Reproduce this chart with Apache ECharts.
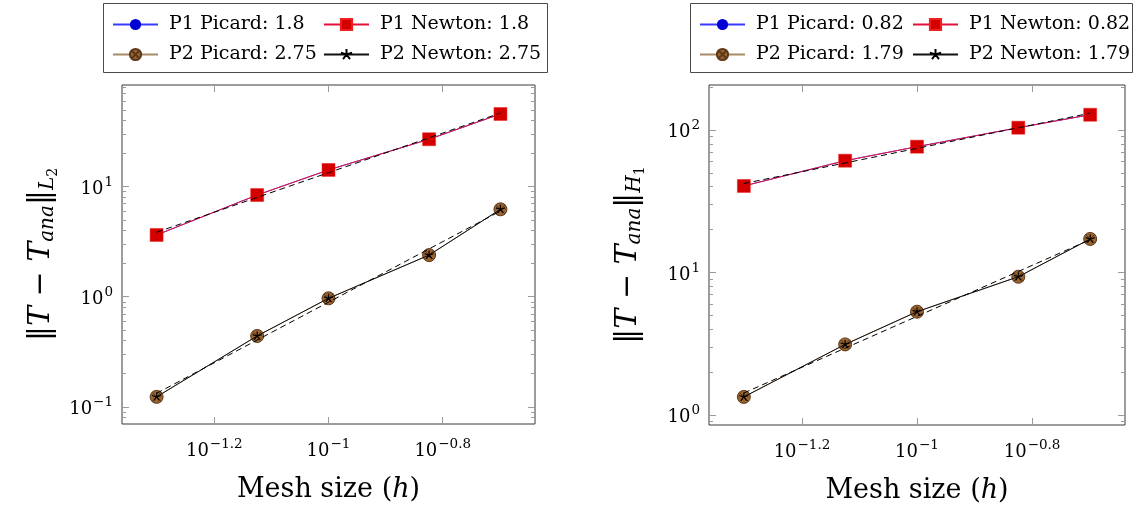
<!DOCTYPE html>
<html><head><meta charset="utf-8">
<script src="https://cdn.jsdelivr.net/npm/echarts@6/dist/echarts.min.js"></script>
<style>html,body{margin:0;padding:0;background:#fff}#c{width:1136px;height:512px}</style>
</head><body><div id="c"></div>
<script>
// ---------------- data ----------------
const meshSize = [0.05, 0.075, 0.1, 0.15, 0.2];

const l2P1Picard = [3.64, 8.4, 14.2, 27.0, 45.8];
const l2P1Newton = [3.64, 8.4, 14.2, 27.0, 45.8];
const l2P2Picard = [0.123, 0.44, 0.967, 2.39, 6.23];
const l2P2Newton = [0.123, 0.44, 0.967, 2.39, 6.23];

const h1P1Picard = [40.5, 60.9, 76.4, 103.8, 128];
const h1P1Newton = [40.5, 60.9, 76.4, 103.8, 128];
const h1P2Picard = [1.34, 3.13, 5.31, 9.34, 17.2];
const h1P2Newton = [1.34, 3.13, 5.31, 9.34, 17.2];

const l2Legend = ['P1 Picard: 1.8', 'P1 Newton: 1.8', 'P2 Picard: 2.75', 'P2 Newton: 2.75'];
const h1Legend = ['P1 Picard: 0.82', 'P1 Newton: 0.82', 'P2 Picard: 1.79', 'P2 Newton: 1.79'];

const xTickExponents = [-1.2, -1, -0.8];
const l2YTicks = [0.1, 1, 10];
const h1YTicks = [1, 10, 100];

const xRange = [0.04349, 0.2299];
const l2YRange = [0.0697, 84.0];
const h1YRange = [0.851, 207];

// ---------------- helpers ----------------
const FONT = 'DejaVu Serif';
const LOG = Math.log10;
const pairs = ys => meshSize.map((h, i) => [h, ys[i]]);
function fitLine(ys) { // least-squares fit in log-log space (as the reference's dashed lines)
  const lx = meshSize.map(LOG), ly = ys.map(LOG), n = lx.length;
  const mx = lx.reduce((a, b) => a + b) / n, my = ly.reduce((a, b) => a + b) / n;
  let sxy = 0, sxx = 0;
  for (let i = 0; i < n; i++) { sxy += (lx[i] - mx) * (ly[i] - my); sxx += (lx[i] - mx) ** 2; }
  const b = sxy / sxx, a = my - b * mx;
  return meshSize.map(h => [h, Math.pow(10, a + b * LOG(h))]);
}
function minorTicks(r) {
  const out = [];
  for (let e = -3; e <= 3; e++) for (let m = 2; m <= 9; m++) {
    const v = m * Math.pow(10, e);
    if (v > r[0] && v < r[1]) out.push(v);
  }
  return out;
}
const fmtExp = e => String(e).replace('-', '\u2212');
const powLabel = (v, digits) => {
  const e = Math.round(LOG(v) * digits) / digits;
  return '{b|10}{s|' + fmtExp(e) + '}';
};
const powRich = {
  b: { fontFamily: FONT, fontSize: 18, color: '#000', verticalAlign: 'bottom', padding: [5, 1, 0, 0] },
  s: { fontFamily: FONT, fontSize: 13.5, color: '#000', verticalAlign: 'top' }
};

const starPath = 'path://M0,0L0,-1M0,0L0.951,-0.309M0,0L0.588,0.809M0,0L-0.588,0.809M0,0L-0.951,-0.309M0,1L0,1';
const otimesPath = 'path://M-1,0A1,1,0,1,1,1,0A1,1,0,1,1,-1,0ZM-0.707,-0.707L0.707,0.707M-0.707,0.707L0.707,-0.707';

const TICK = '#9a9a9a';

function xAxes(gi) {
  const vals = xTickExponents.map(e => Math.pow(10, e));
  const base = {
    type: 'log', logBase: 10, gridIndex: gi, min: xRange[0], max: xRange[1],
    axisLine: { show: false }, splitLine: { show: false }, minorTick: { show: false }
  };
  return [
    Object.assign({}, base, {
      position: 'bottom',
      axisTick: { show: true, inside: true, length: 7, customValues: vals, lineStyle: { color: TICK, width: 1 } },
      axisLabel: { show: true, margin: 13, customValues: vals, formatter: v => powLabel(v, 10), rich: powRich },
      name: 'Mesh size ({i|h})', nameLocation: 'middle', nameGap: 52,
      nameTextStyle: { fontFamily: FONT, fontSize: 27, color: '#000',
        rich: { i: { fontFamily: FONT, fontSize: 27, fontStyle: 'italic', color: '#000' } } }
    }),
    Object.assign({}, base, {
      position: 'top',
      axisTick: { show: true, inside: true, length: 7, customValues: vals, lineStyle: { color: TICK, width: 1 } },
      axisLabel: { show: false }
    })
  ];
}

function yAxes(gi, range, major, sub) {
  const minor = minorTicks(range);
  const base = {
    type: 'log', logBase: 10, gridIndex: gi, min: range[0], max: range[1],
    axisLine: { show: false }, splitLine: { show: false }, minorTick: { show: false }
  };
  const nameRich = {
    n: { fontFamily: FONT, fontSize: 30, color: '#000' },
    i: { fontFamily: FONT, fontSize: 30, fontStyle: 'italic', color: '#000' },
    sub: { fontFamily: FONT, fontSize: 20, fontStyle: 'italic', color: '#000', verticalAlign: 'top', padding: [15, 0, 0, 0] },
    ss: { fontFamily: FONT, fontSize: 14, color: '#000', verticalAlign: 'top', padding: [23, 0, 0, 0] }
  };
  return [
    Object.assign({}, base, {
      position: 'left',
      axisTick: { show: true, inside: true, length: 7, customValues: major, lineStyle: { color: TICK, width: 1 } },
      axisLabel: { show: true, margin: 9, customValues: major, formatter: v => powLabel(v, 1), rich: powRich },
      name: '{n|\u2016}{i|T}{n| \u2212 }{i|T}{sub|ana}{n|\u2016}{sub|' + sub[0] + '}{ss|' + sub[1] + '}',
      nameLocation: 'middle', nameRotate: 90, nameGap: 62,
      nameTextStyle: { fontFamily: FONT, fontSize: 30, color: '#000', rich: nameRich }
    }),
    Object.assign({}, base, {
      position: 'left',
      axisTick: { show: true, inside: true, length: 4, customValues: minor, lineStyle: { color: TICK, width: 1 } },
      axisLabel: { show: false }
    }),
    Object.assign({}, base, {
      position: 'right',
      axisTick: { show: true, inside: true, length: 7, customValues: major, lineStyle: { color: TICK, width: 1 } },
      axisLabel: { show: false }
    }),
    Object.assign({}, base, {
      position: 'right',
      axisTick: { show: true, inside: true, length: 4, customValues: minor, lineStyle: { color: TICK, width: 1 } },
      axisLabel: { show: false }
    })
  ];
}

function seriesFor(names, p1p, p1n, p2p, p2n, xi, yi) {
  const common = { type: 'line', xAxisIndex: xi, yAxisIndex: yi, silent: true, animation: false };
  return [
    Object.assign({}, common, { name: names[0], data: pairs(p1p), symbol: 'circle', symbolSize: 11, z: 2,
      itemStyle: { color: '#0000d4' }, lineStyle: { color: '#3a3aff', width: 1 } }),
    Object.assign({}, common, { name: names[1], data: pairs(p1n), symbol: 'rect', symbolSize: 13, z: 3,
      itemStyle: { color: '#d40000', borderColor: '#ee2020', borderWidth: 0.5 }, lineStyle: { color: '#e4103c', width: 1 } }),
    Object.assign({}, common, { name: names[2], data: pairs(p2p), symbol: otimesPath, symbolSize: 13, z: 2,
      itemStyle: { color: '#9a6330', borderColor: '#5a3818', borderWidth: 1 }, lineStyle: { color: '#a88a68', width: 1 } }),
    Object.assign({}, common, { name: names[3], data: pairs(p2n), symbol: starPath, symbolSize: 9, z: 3,
      itemStyle: { color: '#000', borderColor: '#000', borderWidth: 1.2 }, lineStyle: { color: '#111', width: 1 } }),
    Object.assign({}, common, { name: 'fitP1_' + xi, data: fitLine(p1n), symbol: 'none', z: 4,
      lineStyle: { color: '#000', width: 1, type: [6, 4] } }),
    Object.assign({}, common, { name: 'fitP2_' + xi, data: fitLine(p2n), symbol: 'none', z: 4,
      lineStyle: { color: '#000', width: 1, type: [6, 4] } })
  ];
}

function legends(names, col1, col2) {
  const pos = [[col1, 15], [col2, 15], [col1, 45], [col2, 45]];
  return names.map((n, i) => ({
    data: [n], left: pos[i][0], top: pos[i][1], padding: 0, itemGap: 0,
    itemWidth: 45, itemHeight: 14, selectedMode: false,
    textStyle: { fontFamily: FONT, fontSize: 19, color: '#000', padding: [0, 0, 0, 6] }
  }));
}

const chart = echarts.init(document.getElementById('c'), null, { renderer: 'canvas' });
chart.setOption({
  animation: false,
  backgroundColor: '#fff',
  grid: [
    { left: 122, top: 85, width: 413, height: 339, show: true, borderColor: '#3a3a3a', borderWidth: 1, containLabel: false },
    { left: 709, top: 85, width: 416, height: 340, show: true, borderColor: '#3a3a3a', borderWidth: 1, containLabel: false }
  ],
  xAxis: [].concat(xAxes(0), xAxes(1)),
  yAxis: [].concat(yAxes(0, l2YRange, l2YTicks, ['L', '2']), yAxes(1, h1YRange, h1YTicks, ['H', '1'])),
  legend: [].concat(legends(l2Legend, 112, 323), legends(h1Legend, 699, 912)),
  graphic: [
    { type: 'rect', shape: { x: 103.5, y: 3.5, width: 444, height: 69 }, style: { fill: 'none', stroke: '#4a4a4a', lineWidth: 1 }, silent: true },
    { type: 'rect', shape: { x: 690.5, y: 3.5, width: 442, height: 69 }, style: { fill: 'none', stroke: '#4a4a4a', lineWidth: 1 }, silent: true }
  ],
  series: [].concat(
    seriesFor(l2Legend, l2P1Picard, l2P1Newton, l2P2Picard, l2P2Newton, 0, 0),
    seriesFor(h1Legend, h1P1Picard, h1P1Newton, h1P2Picard, h1P2Newton, 2, 4)
  )
});
</script></body></html>
